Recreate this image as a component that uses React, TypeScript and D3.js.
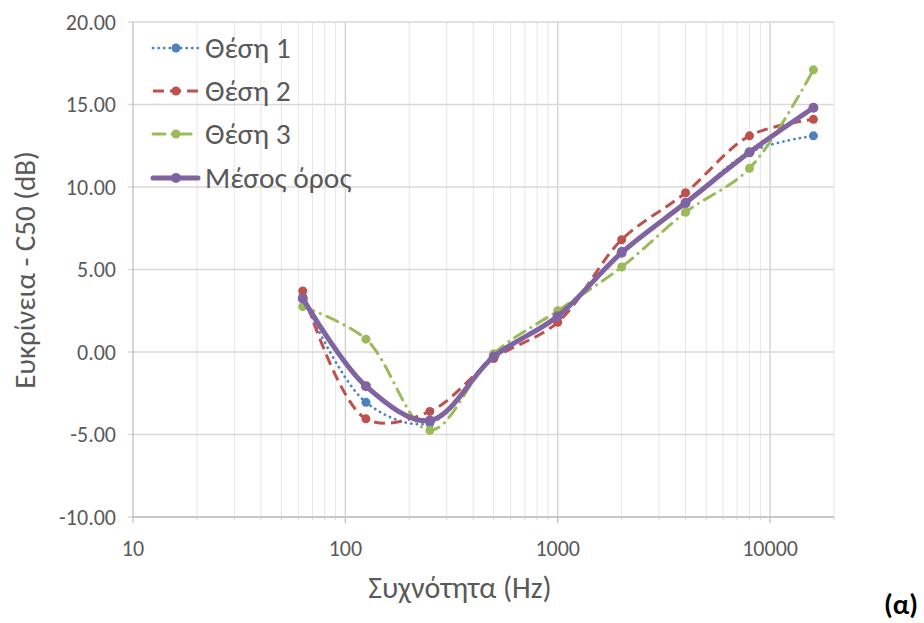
import React from "react";
import * as d3 from "d3";

const freqs = [63, 125, 250, 500, 1000, 2000, 4000, 8000, 16000];
const pos1 = [3.3, -3.05, -4.3, -0.3, 2.2, 6.1, 9.0, 12.1, 13.1];
const pos2 = [3.7, -4.05, -3.6, -0.4, 1.8, 6.8, 9.65, 13.1, 14.1];
const pos3 = [2.75, 0.78, -4.75, -0.1, 2.5, 5.15, 8.47, 11.13, 17.1];
const mean = [3.25, -2.07, -4.15, -0.28, 2.17, 6.02, 9.04, 12.1, 14.8];
const seriesNames = ["Θέση 1", "Θέση 2", "Θέση 3", "Μέσος όρος"];
const yTicks = [-10, -5, 0, 5, 10, 15, 20];
const xMajor = [10, 100, 1000, 10000];

const colors = ["#4F81BD", "#C0504D", "#9BBB59", "#8064A2"];
const widths = [2.75, 3, 3, 5];
const dashes = ["0.1 5.5", "11 6", "12 7 0.1 7", ""];
const caps: ("round" | "butt")[] = ["round", "butt", "round", "round"];
const radii = [4.5, 4.5, 4.5, 5];

const W = 924;
const H = 623;
const L = 133, R = 834, T = 22, B = 517;

export default function App() {
  const x = d3.scaleLog().domain([10, 20000]).range([L, R]);
  const y = d3.scaleLinear().domain([-10, 20]).range([B, T]);
  const data = [pos1, pos2, pos3, mean];
  const line = d3
    .line<[number, number]>()
    .x((d) => x(d[0]))
    .y((d) => y(d[1]))
    .curve(d3.curveCatmullRom.alpha(0.5));

  const minor: number[] = [];
  for (let dec = 10; dec < 20000; dec *= 10) {
    for (let k = 2; k <= 9; k++) {
      const v = dec * k;
      if (v <= 20000) minor.push(v);
    }
  }
  const font = "Calibri, Carlito, 'Open Sans', sans-serif";
  const legendY = [48, 91, 134, 178];

  return (
    <svg
      width={W}
      height={H}
      style={{ position: "absolute", left: 0, top: 0, background: "#fff" }}
      fontFamily={font}
    >
      {minor.map((v) => (
        <line key={"m" + v} x1={x(v)} x2={x(v)} y1={T} y2={B} stroke="#e6e6e6" strokeWidth={1} />
      ))}
      {xMajor.slice(1).map((v) => (
        <line key={"M" + v} x1={x(v)} x2={x(v)} y1={T} y2={B} stroke="#d0d0d0" strokeWidth={1.3} />
      ))}
      {yTicks.map((v) => (
        <line key={"h" + v} x1={L - 5} x2={R} y1={y(v)} y2={y(v)} stroke="#d9d9d9" strokeWidth={1.3} />
      ))}
      <line x1={L} x2={L} y1={T} y2={B} stroke="#bfbfbf" strokeWidth={1.3} />
      <line x1={L} x2={R} y1={B} y2={B} stroke="#bfbfbf" strokeWidth={1.3} />
      {xMajor.map((v) => (
        <line key={"t" + v} x1={x(v)} x2={x(v)} y1={B} y2={B + 6} stroke="#bfbfbf" strokeWidth={1.3} />
      ))}
      {minor.map((v) => (
        <line key={"tm" + v} x1={x(v)} x2={x(v)} y1={B} y2={B + 3} stroke="#d0d0d0" strokeWidth={1} />
      ))}
      {yTicks.map((v) => (
        <text key={"yl" + v} x={116} y={y(v)} dy="0.35em" textAnchor="end" fontSize={22} fill="#595959">
          {v.toFixed(2)}
        </text>
      ))}
      {xMajor.map((v) => (
        <text key={"xl" + v} x={x(v)} y={556} textAnchor="middle" fontSize={22} fill="#595959">
          {v}
        </text>
      ))}
      <text
        transform={`translate(35,270) rotate(-90)`}
        textAnchor="middle"
        fontSize={29}
        fill="#595959"
      >
        Ευκρίνεια - C50 (dB)
      </text>
      <text x={460} y={598} textAnchor="middle" fontSize={30} fill="#595959">
        Συχνότητα (Hz)
      </text>
      <text x={901} y={614} textAnchor="middle" fontSize={28} fontWeight="bold" fill="#000">
        (α)
      </text>
      {data.map((vals, i) => {
        const pts: [number, number][] = freqs.map((f, j) => [f, vals[j]]);
        return (
          <g key={"s" + i}>
            <path
              d={line(pts) || ""}
              fill="none"
              stroke={colors[i]}
              strokeWidth={widths[i]}
              strokeDasharray={dashes[i] || undefined}
              strokeLinecap={caps[i]}
            />
            {pts.map((p, j) => (
              <circle key={j} cx={x(p[0])} cy={y(p[1])} r={radii[i]} fill={colors[i]} />
            ))}
          </g>
        );
      })}
      {seriesNames.map((n, i) => (
        <g key={"lg" + i}>
          <line
            x1={153}
            x2={198}
            y1={legendY[i]}
            y2={legendY[i]}
            stroke={colors[i]}
            strokeWidth={widths[i]}
            strokeDasharray={dashes[i] || undefined}
            strokeLinecap={caps[i]}
          />
          <circle cx={176} cy={legendY[i]} r={radii[i]} fill={colors[i]} />
          <text x={205} y={legendY[i]} dy="0.35em" fontSize={29.5} fill="#595959">
            {n}
          </text>
        </g>
      ))}
    </svg>
  );
}
